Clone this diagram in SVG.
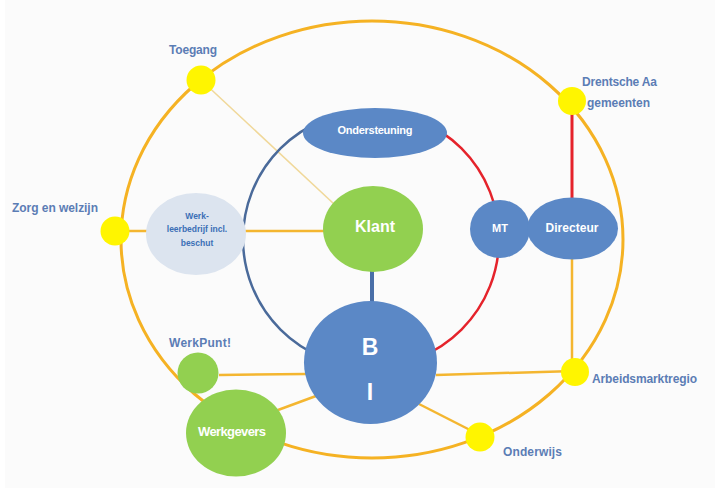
<svg xmlns="http://www.w3.org/2000/svg" width="715" height="490" viewBox="0 0 715 490">
  <style>
    .lbl { font-family: "Liberation Sans", Arial, sans-serif; font-weight: bold; font-size: 12px; fill: #5B7DB5; }
    .ntx { font-family: "Liberation Sans", Arial, sans-serif; font-weight: bold; fill: #FFFFFF; text-anchor: middle; }
    .wtx { font-family: "Liberation Sans", Arial, sans-serif; font-weight: bold; font-size: 8.5px; fill: #3B6FB6; text-anchor: middle; }
    .blue { fill: #5B88C6; }
    .green { fill: #92D050; }
    .dot { fill: #FFF500; }
    .yl { stroke: #F4B630; stroke-width: 2.5; fill: none; }
  </style>
  <rect x="0" y="0" width="715" height="490" fill="#FFFFFF"/>
  <rect x="5" y="0" width="710" height="488" fill="#FBFBFB"/>

  <ellipse id="outer-ring" cx="372" cy="239.5" rx="251" ry="218.5" fill="none" stroke="#F5B223" stroke-width="3"/>

  <g id="connectors">
    <path class="yl" d="M115,231 L335,231"/>
    <path d="M201,80 L334,204" stroke="#F0D89A" stroke-width="1.6" fill="none"/>
    <path class="yl" d="M219,375 L306,374"/>
    <path class="yl" d="M278,410 L316,396"/>
    <path class="yl" d="M436,375 L575,371"/>
    <path class="yl" d="M419,404 L472,431"/>
    <path class="yl" d="M572,258 L572,360"/>
    <path d="M572,101 L572,199" stroke="#E5232B" stroke-width="3" fill="none"/>
    <path d="M371,111 A128,128 0 0 0 371,367" stroke="#4A6A9A" stroke-width="2.5" fill="none"/>
    <path d="M371,111 A128,128 0 0 1 371,367" stroke="#E5232B" stroke-width="2.5" fill="none"/>
    <path d="M372,270 L372,303" stroke="#4A6FA8" stroke-width="4" fill="none"/>
  </g>

  <g id="toegang">
    <circle class="dot" cx="201" cy="80" r="14.5"/>
    <text class="lbl" x="169" y="54" textLength="48">Toegang</text>
  </g>
  <g id="zorg-en-welzijn">
    <circle class="dot" cx="115" cy="231" r="14.5"/>
    <text class="lbl" x="12" y="212" textLength="86">Zorg en welzijn</text>
  </g>
  <g id="drentsche-aa">
    <circle class="dot" cx="572" cy="101" r="14"/>
    <text class="lbl" x="582" y="86" textLength="75">Drentsche Aa</text>
    <text class="lbl" x="587" y="107" textLength="63">gemeenten</text>
  </g>
  <g id="arbeidsmarktregio">
    <circle class="dot" cx="575" cy="372" r="14"/>
    <text class="lbl" x="592" y="383" textLength="105">Arbeidsmarktregio</text>
  </g>
  <g id="onderwijs">
    <circle class="dot" cx="480" cy="437" r="14.5"/>
    <text class="lbl" x="503" y="456" textLength="59">Onderwijs</text>
  </g>

  <g id="werkleerbedrijf">
    <ellipse cx="196" cy="234" rx="50" ry="41" fill="#DCE4EF"/>
    <text class="wtx" x="197" y="219">Werk-</text>
    <text class="wtx" x="197" y="232">leerbedrijf incl.</text>
    <text class="wtx" x="197" y="246">beschut</text>
  </g>
  <g id="ondersteuning">
    <ellipse class="blue" cx="375" cy="133" rx="72" ry="25"/>
    <text class="ntx" x="375" y="134" font-size="11" textLength="75">Ondersteuning</text>
  </g>
  <g id="klant">
    <ellipse class="green" cx="373" cy="229" rx="50" ry="43"/>
    <text class="ntx" x="375" y="232" font-size="16">Klant</text>
  </g>
  <g id="mt">
    <ellipse class="blue" cx="500" cy="229" rx="30" ry="29"/>
    <text class="ntx" x="500" y="232" font-size="11">MT</text>
  </g>
  <g id="directeur">
    <ellipse class="blue" cx="572.5" cy="228.5" rx="45.5" ry="31"/>
    <text class="ntx" x="572" y="232" font-size="12" textLength="53">Directeur</text>
  </g>
  <g id="bi">
    <ellipse class="blue" cx="370.5" cy="362.5" rx="66.5" ry="61.5"/>
    <text class="ntx" x="370" y="355" font-size="23">B</text>
    <text class="ntx" x="370" y="400" font-size="23">I</text>
  </g>
  <g id="werkpunt">
    <circle class="green" cx="198" cy="373" r="20.5"/>
    <text class="lbl" x="169" y="347" textLength="62">WerkPunt!</text>
  </g>
  <g id="werkgevers">
    <ellipse class="green" cx="236" cy="433" rx="50" ry="43.5"/>
    <text class="ntx" x="232" y="436" font-size="13" textLength="68">Werkgevers</text>
  </g>
</svg>
